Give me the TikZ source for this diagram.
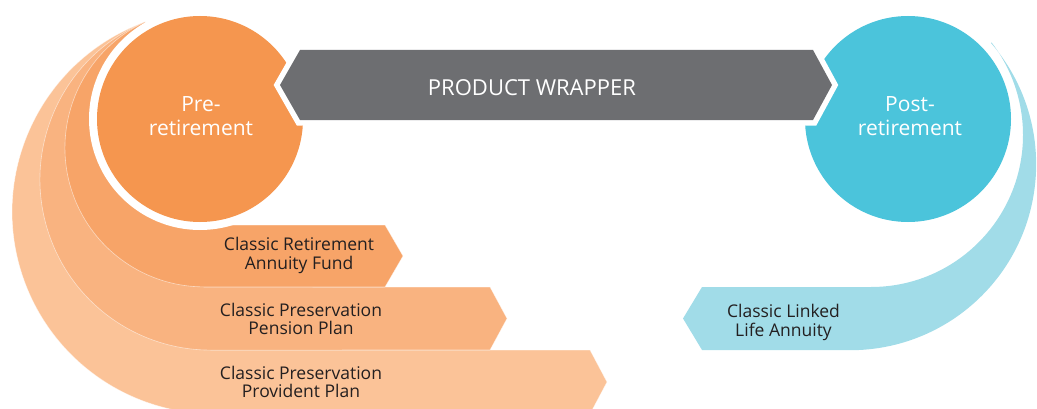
\documentclass[tikz,border=0pt]{standalone}
\usepackage{fontspec}
\setmainfont{Open Sans}
\definecolor{preorange}{HTML}{F5964F}
\definecolor{bandA}{HTML}{F7A468}
\definecolor{bandB}{HTML}{F9B380}
\definecolor{bandC}{HTML}{FBC398}
\definecolor{postblue}{HTML}{4BC4DB}
\definecolor{bandblue}{HTML}{A1DCE8}
\definecolor{wrapgrey}{HTML}{6D6E71}
\definecolor{inkdark}{HTML}{231F20}
\begin{document}
\begin{tikzpicture}[x=1pt,y=1pt,
  band/.style={draw=white, draw opacity=0.55, line width=0.6pt},
  ring/.style={fill=white},
  bandtext/.style={text=inkdark, align=center, inner sep=0pt, font=\fontsize{17.5}{18.8}\selectfont},
  stagetext/.style={text=white, align=center, inner sep=0pt, font=\fontsize{21}{24}\selectfont},
  wraptext/.style={text=white, inner sep=0pt, font=\fontsize{22}{24}\selectfont}]
\useasboundingbox (0,0) rectangle (1037,408);
\clip (0,0) rectangle (1037,408);

% meeting point of the orange bands above the pre-retirement disc
\coordinate (T) at (145,386);
% meeting point of the blue band above the post-retirement disc
\coordinate (U) at (991,365);
\coordinate (pre) at (200,289);
\coordinate (post) at (908,289);

% orange product bands, back to front
\path[band, fill=bandC] (T) arc[start angle=110, end angle=270, radius=202]
  -- (590,-6) -- (607,26) -- (590,58) -- (210.6,58) -- cycle;
\path[band, fill=bandB] (T) arc[start angle=112.6, end angle=270, radius=170.6]
  -- (490,58) -- (507,89.5) -- (490,121) -- (204,121) -- cycle;
\path[band, fill=bandA] (T) arc[start angle=115.1, end angle=270, radius=139]
  -- (385,121) -- (403,152) -- (385,183) -- (200,183) -- cycle;

% pre-retirement disc with its white ring
\fill[ring] (pre) circle[radius=111];
\fill[preorange] (pre) circle[radius=103];

% blue annuity band
\fill[bandblue] (U) arc[start angle=40.8, end angle=-90, radius=185.8]
  -- (702,58) -- (683,89.5) -- (702,121) -- (871,121)
  arc[start angle=-90, end angle=37.5, radius=152] -- cycle;

% post-retirement disc
\fill[ring] (post) circle[radius=111];
\fill[postblue] (post) circle[radius=103];

% product wrapper arrow with a white outline
\path[preaction={draw=white, line width=11pt, line join=miter}, fill=wrapgrey]
  (280,323) -- (300,358) -- (813,358) -- (832,323) -- (813,288) -- (300,288) -- cycle;

% labels
\node[stagetext] (preLabel) at (201,291.5) {Pre-\\retirement};
\node[stagetext] (postLabel) at (910,291.5) {Post-\\retirement};
\node[wraptext] (wrapLabel) at (532,320.5) {PRODUCT WRAPPER};
\node[bandtext] (raf) at (299,152.6) {Classic Retirement\\Annuity Fund};
\node[bandtext] (ppp) at (301,89) {Classic Preservation\\Pension Plan};
\node[bandtext] (pvp) at (301,26) {Classic Preservation\\Provident Plan};
\node[bandtext] (lla) at (783.5,85.5) {Classic Linked\\Life Annuity};
\end{tikzpicture}
\end{document}
